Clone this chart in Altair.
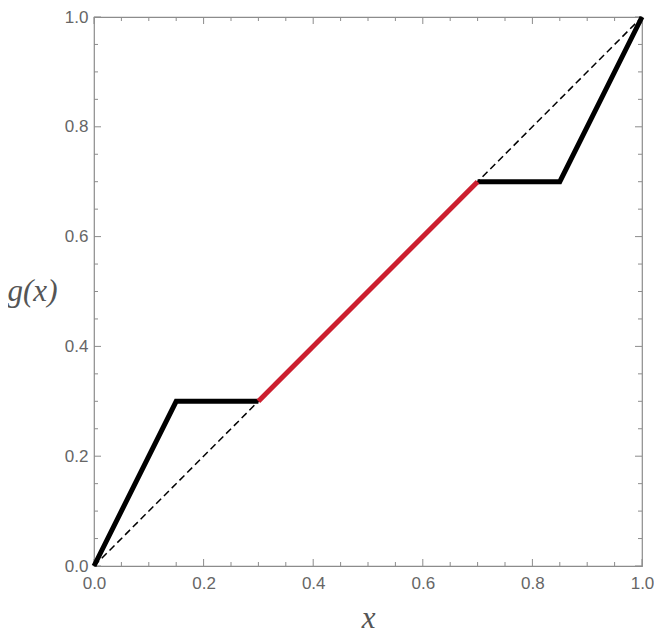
import altair as alt
import pandas as pd

# data
diag_x = [0.0, 1.0]
diag_y = [0.0, 1.0]
left_x = [0.0, 0.15, 0.3]
left_y = [0.0, 0.3, 0.3]
mid_x = [0.3, 0.7]
mid_y = [0.3, 0.7]
right_x = [0.7, 0.85, 1.0]
right_y = [0.7, 0.7, 1.0]
major_ticks = [0.0, 0.2, 0.4, 0.6, 0.8, 1.0]
minor_ticks = [0.05, 0.1, 0.15, 0.25, 0.3, 0.35, 0.45, 0.5, 0.55,
               0.65, 0.7, 0.75, 0.85, 0.9, 0.95]

W, H = 548, 549
GRAY = "#8c8c8c"
TXT = "#666666"
MAJ, MIN = 7, 4

xs = alt.Scale(domain=[0, 1], nice=False)
ys = alt.Scale(domain=[0, 1], nice=False)

def seg(xv, yv, name):
    return pd.DataFrame({"x": xv, "y": yv, "s": name, "o": list(range(len(xv)))})

diag = alt.Chart(seg(diag_x, diag_y, "d")).mark_line(
    color="black", strokeWidth=1.5, strokeDash=[7, 4]
).encode(
    x=alt.X("x:Q", scale=xs,
            axis=alt.Axis(values=major_ticks, format=".1f", ticks=False, domain=False,
                          grid=False, labelFontSize=17, labelColor=TXT, labelFont="Liberation Sans",
                          labelPadding=9, title="x", titleFont="Liberation Serif",
                          titleFontStyle="italic", titleFontWeight="normal", titleFontSize=31,
                          titleColor="#555555", titleBaseline="alphabetic", titleY=61,
                          labelFlush=False)),
    y=alt.Y("y:Q", scale=ys,
            axis=alt.Axis(values=major_ticks, format=".1f", ticks=False, domain=False,
                          grid=False, labelFontSize=17, labelColor=TXT, labelFont="Liberation Sans",
                          labelPadding=6, title="g(x)", titleFont="Liberation Serif",
                          titleFontStyle="italic", titleFontWeight="normal", titleFontSize=31,
                          titleColor="#555555", titleAngle=0, titleAlign="center",
                          titleBaseline="alphabetic", titleX=-62, titleY=283,
                          labelFlush=False)),
    order="o:O",
)

def black_line(xv, yv, name):
    return alt.Chart(seg(xv, yv, name)).mark_line(color="black", strokeWidth=5).encode(
        x=alt.X("x:Q", scale=xs), y=alt.Y("y:Q", scale=ys), order="o:O")

left = black_line(left_x, left_y, "l")
right = black_line(right_x, right_y, "r")
mid = alt.Chart(seg(mid_x, mid_y, "m")).mark_line(color="#cc1f2f", strokeWidth=5).encode(
    x=alt.X("x:Q", scale=xs), y=alt.Y("y:Q", scale=ys), order="o:O")

def tick_layers(vals, L):
    df = pd.DataFrame({"v": vals})
    base = alt.Chart(df).mark_rule(color=GRAY, strokeWidth=1)
    bottom = base.encode(x=alt.X("v:Q", scale=xs), y=alt.value(H), y2=alt.value(H - L))
    top = base.encode(x=alt.X("v:Q", scale=xs), y=alt.value(0), y2=alt.value(L))
    lft = base.encode(y=alt.Y("v:Q", scale=ys), x=alt.value(0), x2=alt.value(L))
    rgt = base.encode(y=alt.Y("v:Q", scale=ys), x=alt.value(W), x2=alt.value(W - L))
    return [bottom, top, lft, rgt]

layers = [diag] + tick_layers(major_ticks, MAJ) + tick_layers(minor_ticks, MIN) + [left, right, mid]

chart = alt.layer(*layers).properties(
    width=W, height=H,
    autosize=alt.AutoSizeParams(type="none"),
    padding={"left": 86, "top": 9, "right": 12, "bottom": 68},
).configure_view(stroke=GRAY, strokeWidth=1.2)

chart.save("out.html", embed_options={"renderer": "svg", "actions": False})
